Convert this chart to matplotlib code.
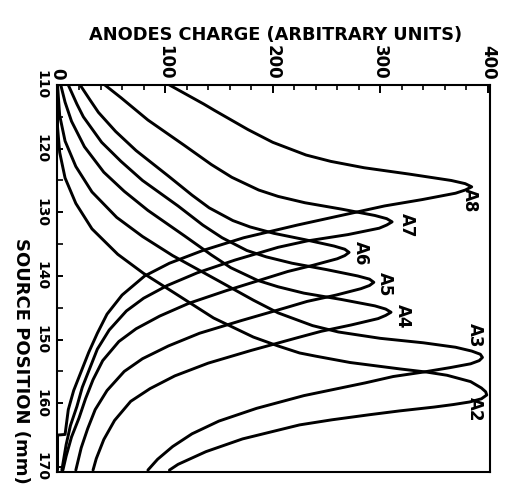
import matplotlib
matplotlib.use("Agg")
import matplotlib.pyplot as plt
from matplotlib.ticker import MultipleLocator

# Source position (mm) and anode charge (arbitrary units) for each anode
a8_pos = [110.0, 113.0, 114.0, 117.0, 119.0, 121.0, 122.0, 123.0, 124.0, 125.0, 125.5, 126.0,
          126.5, 127.0, 128.0, 129.0, 130.0, 132.0, 134.0, 136.0, 138.0, 140.0, 143.0, 146.0,
          149.0, 152.0, 155.0, 158.0, 161.0, 164.9, 165.0, 170.5]
a8_chg = [104, 136, 146, 177, 200, 231, 254, 285, 327, 366, 379, 385,
          379, 370, 339, 304, 277, 223, 173, 135, 104, 81, 60, 46,
          37, 29, 22, 15, 10, 7, 0, 0]

a7_pos = [110.0, 112.0, 115.5, 119.5, 122.5, 124.5, 126.5, 127.5, 128.5, 129.5, 130.5, 131.0, 131.5,
          132.0, 132.5, 133.5, 134.5, 135.5, 137.5, 139.5, 141.5, 143.5, 145.5, 148.5, 151.5,
          154.5, 157.5, 160.5, 163.5, 166.5, 170.5]
a7_chg = [44, 59, 84, 118, 143, 162, 187, 205, 230, 264, 295, 306, 311,
          306, 299, 270, 232, 205, 165, 130, 102, 80, 64, 48, 37,
          30, 23, 18, 12, 8, 4]

a6_pos = [110.0, 112.3, 114.3, 117.3, 120.3, 124.3, 127.3, 129.3, 131.3, 132.3, 133.3, 134.3, 135.3,
          135.8, 136.3, 136.8, 137.3, 138.3, 139.3, 140.3, 142.3, 144.3, 146.3, 148.3, 150.3,
          153.3, 156.3, 159.3, 162.3, 165.3, 168.3, 170.5]
a6_chg = [21, 30, 38, 54, 73, 103, 125, 141, 163, 179, 201, 230, 257,
          267, 271, 267, 260, 238, 214, 195, 157, 122, 95, 73, 57,
          42, 33, 26, 20, 13, 8, 5]

a5_pos = [110.0, 113.0, 115.0, 119.0, 122.0, 125.0, 129.0, 132.0, 134.0, 136.0, 137.0, 138.0, 139.0,
          140.0, 140.5, 141.0, 141.5, 142.0, 143.0, 144.0, 145.0, 147.0, 149.0, 151.0, 153.0,
          155.0, 158.0, 161.0, 164.0, 167.0, 170.5]
a5_chg = [10, 18, 24, 41, 59, 79, 112, 135, 153, 176, 194, 218, 250,
          279, 290, 294, 290, 282, 259, 232, 212, 171, 132, 103, 79,
          62, 46, 35, 28, 22, 17]

a4_pos = [110.0, 112.7, 115.7, 119.7, 123.7, 126.7, 129.7, 133.7, 136.7, 138.7, 140.7, 141.7, 142.7,
          143.7, 144.7, 145.2, 145.7, 146.2, 146.7, 147.7, 148.7, 149.7, 151.7, 153.7, 155.7,
          157.7, 159.7, 162.7, 165.7, 168.7, 170.5]
a4_chg = [3, 7, 13, 25, 43, 62, 84, 118, 143, 161, 186, 205, 229,
          264, 295, 305, 310, 305, 298, 273, 245, 223, 180, 140, 109,
          86, 68, 53, 43, 36, 33]

a3_pos = [110.0, 114.8, 118.8, 122.8, 126.8, 130.8, 133.8, 136.8, 140.8, 143.8, 145.8, 147.8, 148.8,
          149.8, 150.5, 151.2, 151.8, 152.3, 152.8, 153.3, 153.8, 154.4, 155.1, 155.8, 156.8,
          158.8, 160.8, 162.8, 164.8, 166.8, 168.8, 170.5]
a3_chg = [0, 2, 7, 17, 32, 55, 79, 107, 150, 182, 205, 237, 261,
          300, 340, 370, 385, 393, 395, 392, 384, 365, 340, 312, 286,
          229, 185, 150, 125, 107, 93, 84]

a2_pos = [110.0, 116.6, 120.6, 124.6, 128.6, 132.6, 136.6, 139.6, 142.6, 146.6, 149.6, 151.0, 152.1,
          152.6, 153.6, 154.6, 155.1, 155.6, 156.6, 157.6, 158.2, 158.7, 159.3, 159.8, 160.2,
          160.6, 161.2, 161.8, 162.6, 163.4, 165.6, 167.6, 169.6, 170.5]
a2_chg = [0, 0, 2, 7, 17, 32, 56, 80, 108, 145, 182, 205, 225,
          240, 272, 318, 343, 362, 384, 394, 398, 399, 394, 383, 368,
          350, 318, 290, 255, 225, 172, 138, 112, 104]

curve_names = ["A8", "A7", "A6", "A5", "A4", "A3", "A2"]
curve_pos = [a8_pos, a7_pos, a6_pos, a5_pos, a4_pos, a3_pos, a2_pos]
curve_chg = [a8_chg, a7_chg, a6_chg, a5_chg, a4_chg, a3_chg, a2_chg]

# Label anchor points (charge, position)
label_chg = [383, 325, 282, 304, 321, 388, 388]
label_pos = [128.1, 132.1, 136.5, 141.3, 146.4, 149.3, 161.0]

charge_ticks = [0, 100, 200, 300, 400]
position_ticks = [110, 120, 130, 140, 150, 160, 170]

FONT = "DejaVu Sans"
plt.rcParams["font.family"] = [FONT]

fig = plt.figure(figsize=(5.09, 5.01), dpi=100)
ax = fig.add_axes([57 / 509, 1 - 472 / 501, (490 - 57) / 509, (472 - 85) / 501])

for pos, chg in zip(curve_pos, curve_chg):
    ax.plot(chg, pos, color="black", lw=2.1, solid_joinstyle="round", solid_capstyle="round")

for name, c, p in zip(curve_names, label_chg, label_pos):
    ax.text(c, p, name, rotation=-90, ha="center", va="center",
            fontsize=12, fontweight="bold", color="black")

ax.set_xlim(-0.5, 402)
ax.set_ylim(170.8, 110)

ax.xaxis.tick_top()
ax.set_xticks(charge_ticks)
ax.set_xticklabels([str(v) for v in charge_ticks], rotation=-90, fontsize=12,
                   fontweight="bold")
ax.xaxis.set_minor_locator(MultipleLocator(20))
ax.set_yticks(position_ticks)
ax.set_yticklabels([str(v) for v in position_ticks], rotation=-90, fontsize=10,
                   fontweight="bold", va="center")
ax.yaxis.set_minor_locator(MultipleLocator(5))

ax.tick_params(axis="x", which="major", direction="in", length=6, width=1.4, pad=4,
               top=True, bottom=False)
ax.tick_params(axis="x", which="minor", direction="in", length=3.5, width=1.2,
               top=True, bottom=False)
ax.tick_params(axis="y", which="major", direction="in", length=4, width=1.4, pad=6,
               left=True, right=False)
ax.tick_params(axis="y", which="minor", direction="in", length=4, width=1.2,
               left=True, right=False)
for s in ax.spines.values():
    s.set_linewidth(1.5)

fig.text(276 / 509, 1 - 35 / 501, "ANODES CHARGE (ARBITRARY UNITS)", ha="center",
         va="center", fontsize=12.8, fontweight="bold")
fig.text(21 / 509, 1 - 361 / 501, "SOURCE POSITION (mm)", ha="center", va="center",
         rotation=-90, fontsize=13, fontweight="bold")

fig.savefig("out.png", dpi=100)
